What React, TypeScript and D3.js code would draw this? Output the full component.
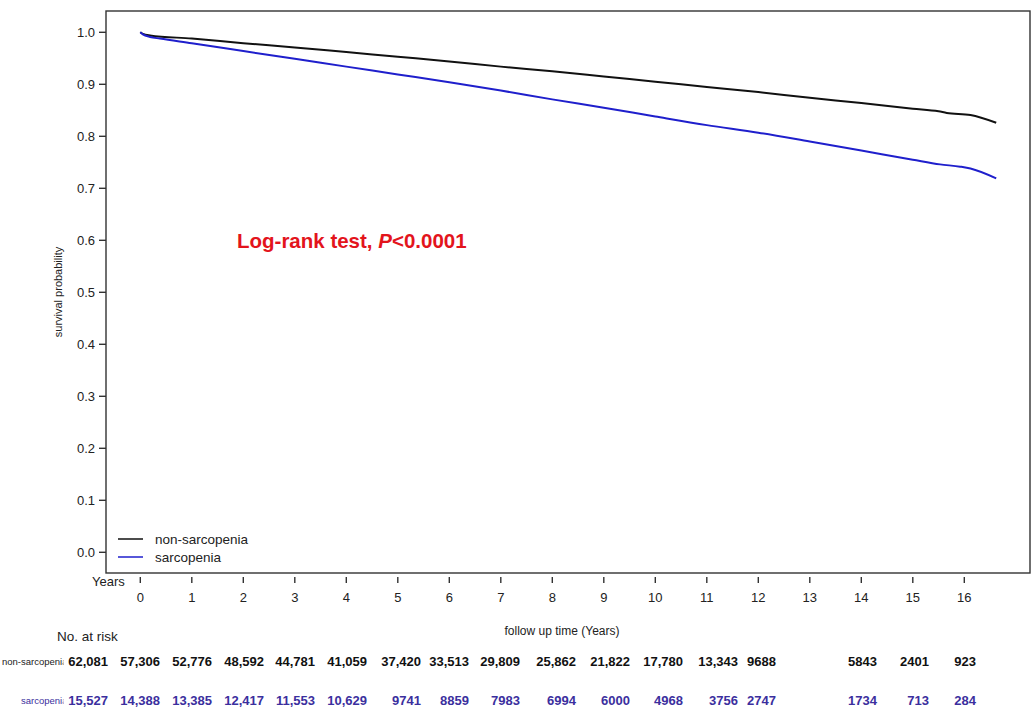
import React from "react";
import * as d3 from "d3";

// ---------- data ----------
const yearTicks = [0, 1, 2, 3, 4, 5, 6, 7, 8, 9, 10, 11, 12, 13, 14, 15, 16];
const survTicks = [0, 0.1, 0.2, 0.3, 0.4, 0.5, 0.6, 0.7, 0.8, 0.9, 1.0];

const nonSarcTime = [0, 0.05, 0.19, 1, 2, 3, 4, 5, 6, 7, 8, 9, 10, 11, 12, 13, 14, 15, 15.5, 15.66, 16.12, 16.62];
const nonSarcSurv = [1.0, 0.997, 0.994, 0.988, 0.979, 0.971, 0.962, 0.953, 0.944, 0.934, 0.925, 0.915, 0.905, 0.895, 0.885, 0.874, 0.864, 0.853, 0.848, 0.845, 0.841, 0.826];

const sarcTime = [0, 0.05, 0.19, 0.38, 1, 2, 3, 4, 5, 6, 7, 8, 9, 10, 11, 12, 13, 14, 15, 15.53, 15.92, 16.12, 16.62];
const sarcSurv = [1.0, 0.996, 0.991, 0.988, 0.979, 0.964, 0.949, 0.934, 0.919, 0.904, 0.888, 0.871, 0.855, 0.838, 0.8215, 0.807, 0.79, 0.7726, 0.755, 0.746, 0.7416, 0.738, 0.719];

const riskNonSarc = [62081, 57306, 52776, 48592, 44781, 41059, 37420, 33513, 29809, 25862, 21822, 17780, 13343, 9688, 5843, 2401, 923];
const riskSarc = [15527, 14388, 13385, 12417, 11553, 10629, 9741, 8859, 7983, 6994, 6000, 4968, 3756, 2747, 1734, 713, 284];

const seriesNames = ["non-sarcopenia", "sarcopenia"];

// ---------- layout ----------
const W = 1035;
const H = 711;
const frame = { left: 106, top: 11, right: 1030, bottom: 573 };
// right edges of the at-risk table columns (layout only)
const riskColRight = [108, 160, 212, 264, 315, 367, 421, 469, 520, 576, 630, 683, 738, 776, 877, 929, 976];

const FONT = "'Liberation Sans', Arial, Helvetica, sans-serif";
const BLACK = "#111111";
const BLUE = "#1f1fcc";
const TABLE_BLUE = "#3b2f9e";
const RED = "#e3141c";
const AXIS = "#333333";

const fmtRisk = (n: number) => (n >= 10000 ? d3.format(",")(n) : String(n));

export default function App() {
  const x = d3.scaleLinear().domain([0, 16]).range([140.3, 964.3]);
  const y = d3.scaleLinear().domain([0, 1]).range([552.3, 32.3]);

  const line = d3
    .line<[number, number]>()
    .x((d) => x(d[0]))
    .y((d) => y(d[1]))
    .curve(d3.curveMonotoneX);

  const nonSarcPath = line(nonSarcTime.map((t, i) => [t, nonSarcSurv[i]]) as [number, number][]) || "";
  const sarcPath = line(sarcTime.map((t, i) => [t, sarcSurv[i]]) as [number, number][]) || "";

  return (
    <svg
      width={W}
      height={H}
      style={{ position: "absolute", left: 0, top: 0, background: "#fff" }}
      fontFamily={FONT}
    >
      <defs>
        <clipPath id="labelClip">
          <rect x={0} y={640} width={63.5} height={71} />
        </clipPath>
      </defs>
      <rect x={0} y={0} width={W} height={H} fill="#fff" />

      {/* frame */}
      <rect
        x={frame.left}
        y={frame.top}
        width={frame.right - frame.left}
        height={frame.bottom - frame.top}
        fill="none"
        stroke={AXIS}
        strokeWidth={1.4}
      />

      {/* y axis */}
      {survTicks.map((v) => (
        <g key={"y" + v}>
          <line x1={99} x2={frame.left} y1={y(v)} y2={y(v)} stroke={AXIS} strokeWidth={1.4} />
          <text x={95} y={y(v)} dy="0.35em" textAnchor="end" fontSize={13} fill="#222">
            {v.toFixed(1)}
          </text>
        </g>
      ))}
      <text
        transform={`translate(62,292) rotate(-90)`}
        textAnchor="middle"
        fontSize={11}
        fill="#222"
      >
        survival probability
      </text>

      {/* x axis */}
      {yearTicks.map((t) => (
        <g key={"x" + t}>
          <line x1={x(t)} x2={x(t)} y1={577} y2={583} stroke={AXIS} strokeWidth={1.4} />
          <text x={x(t)} y={602} textAnchor="middle" fontSize={13} fill="#222">
            {t}
          </text>
        </g>
      ))}
      <text x={92} y={586} fontSize={13} fill="#222">
        Years
      </text>
      <text x={562} y={635} textAnchor="middle" fontSize={12} fill="#222">
        follow up time (Years)
      </text>

      {/* curves */}
      <path d={nonSarcPath} fill="none" stroke={BLACK} strokeWidth={2} />
      <path d={sarcPath} fill="none" stroke={BLUE} strokeWidth={2} />

      {/* legend */}
      <line x1={118} x2={143} y1={539} y2={539} stroke={BLACK} strokeWidth={1.5} />
      <line x1={118} x2={143} y1={557} y2={557} stroke={BLUE} strokeWidth={1.5} />
      <text x={155} y={543.5} fontSize={13.5} fill="#222">
        {seriesNames[0]}
      </text>
      <text x={155} y={561.5} fontSize={13.5} fill="#222">
        {seriesNames[1]}
      </text>

      {/* log-rank annotation */}
      <text x={237} y={248} fontSize={20.5} fontWeight="bold" fill={RED}>
        Log-rank test, <tspan fontStyle="italic">P</tspan>&lt;0.0001
      </text>

      {/* number at risk table */}
      <text x={57} y={641} fontSize={13.5} fill="#222">
        No. at risk
      </text>
      <g clipPath="url(#labelClip)">
        <text x={2} y={665} fontSize={9.5} fill="#222">
          {seriesNames[0]}
        </text>
        <text x={21} y={704} fontSize={9.5} fill={TABLE_BLUE}>
          {seriesNames[1]}
        </text>
      </g>
      {riskNonSarc.map((n, i) => (
        <text key={"rn" + i} x={riskColRight[i]} y={666} textAnchor="end" fontSize={13} fontWeight="bold" fill={BLACK}>
          {fmtRisk(n)}
        </text>
      ))}
      {riskSarc.map((n, i) => (
        <text key={"rs" + i} x={riskColRight[i]} y={705} textAnchor="end" fontSize={13} fontWeight="bold" fill={TABLE_BLUE}>
          {fmtRisk(n)}
        </text>
      ))}
    </svg>
  );
}
